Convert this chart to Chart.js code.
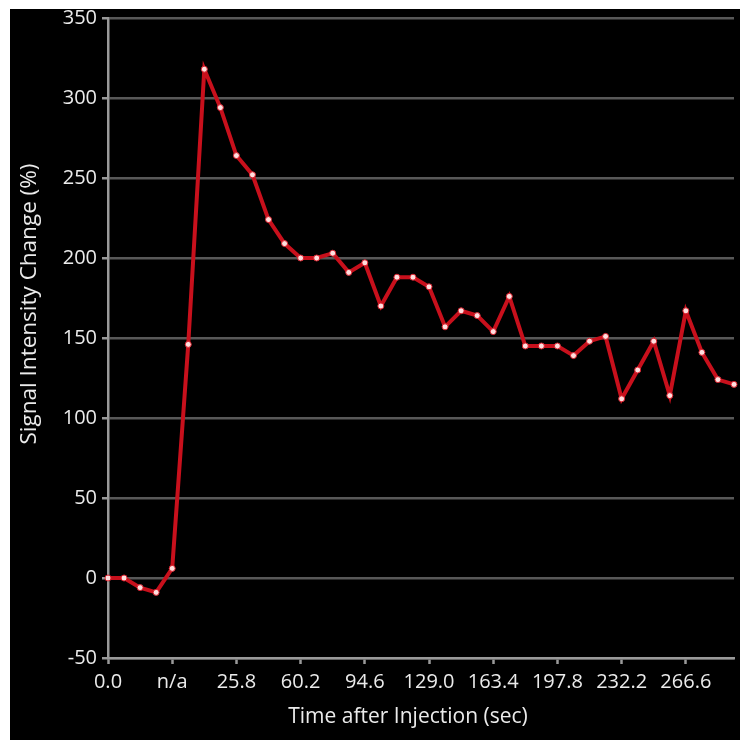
<!DOCTYPE html>
<html>
<head>
<meta charset="utf-8">
<script src="https://cdn.jsdelivr.net/npm/chart.js@4/dist/chart.umd.min.js"></script>
<style>
  html, body { margin: 0; padding: 0; background: #ffffff; }
  #wrap { position: absolute; left: 10px; top: 9px; width: 730px; height: 731px; background: #000000; overflow: hidden; }
  #chart { display: block; position: absolute; left: 0; top: -10px; }
</style>
</head>
<body>
<div id="wrap"><canvas id="chart" width="730" height="741"></canvas></div>
<script>
// Acquisition times (sec after injection); baseline frames carry no time
const timeLabels = [
  "0.0", "n/a", "n/a", "n/a", "n/a", "0.0", "8.6", "17.2", "25.8", "34.4",
  "43.0", "51.6", "60.2", "68.8", "77.4", "86.0", "94.6", "103.2", "111.8", "120.4",
  "129.0", "137.6", "146.2", "154.8", "163.4", "172.0", "180.6", "189.2", "197.8", "206.4",
  "215.0", "223.6", "232.2", "240.8", "249.4", "258.0", "266.6", "275.2", "283.8", "292.4"
];

// Signal intensity change (%) per frame
const signalChange = [
  0, 0, -6, -9, 6, 146, 318, 294, 264, 252,
  224, 209, 200, 200, 203, 191, 197, 170, 188, 188,
  182, 157, 167, 164, 154, 176, 145, 145, 145, 139,
  148, 151, 112, 130, 148, 114, 167, 141, 124, 121
];

const yMin = -50;
const yMax = 350;
const yStep = 50;
const labelEvery = 4;

const xTitle = "Time after Injection (sec)";
const yTitle = "Signal Intensity Change (%)";

const FONT = "'Open Sans', 'DejaVu Sans', sans-serif";
const TEXT = "#ebebeb";
const AXIS = "#9a9a9a";
const GRID = "#585858";

// Axis titles placed by hand
const axisTitles = {
  id: "axisTitles",
  afterDraw(chart) {
    const ctx = chart.ctx;
    ctx.save();
    ctx.fillStyle = TEXT;
    ctx.textAlign = "center";
    ctx.textBaseline = "middle";
    ctx.font = "21px " + FONT;
    ctx.fillText(xTitle, 398, 718);
    ctx.translate(20, 305);
    ctx.rotate(-Math.PI / 2);
    ctx.font = "22.5px " + FONT;
    ctx.fillText(yTitle, 0, 0);
    ctx.restore();
  }
};

new Chart(document.getElementById("chart"), {
  type: "line",
  data: {
    labels: timeLabels,
    datasets: [{
      data: signalChange,
      borderColor: "#c8101c",
      borderWidth: 4,
      tension: 0,
      pointRadius: 3,
      pointBackgroundColor: "#ffdede",
      pointBorderColor: "#d8202c",
      pointBorderWidth: 1
    }]
  },
  options: {
    responsive: false,
    animation: false,
    events: [],
    layout: { padding: { top: 19, right: 1, left: 0, bottom: 0 } },
    plugins: { legend: { display: false }, tooltip: { enabled: false } },
    scales: {
      x: {
        type: "category",
        offset: false,
        afterFit(scale) { scale.height = 82; },
        border: { display: true, color: AXIS, width: 2.5 },
        grid: {
          display: true,
          drawOnChartArea: false,
          drawTicks: true,
          tickLength: 6,
          tickWidth: 2.5,
          tickColor: (c) => (c.index % labelEvery === 0 ? AXIS : "rgba(0,0,0,0)")
        },
        ticks: {
          autoSkip: false,
          maxRotation: 0,
          minRotation: 0,
          padding: 6,
          color: TEXT,
          font: { family: FONT, size: 20 },
          callback: function (value, index) {
            return index % labelEvery === 0 ? this.getLabelForValue(value) : "";
          }
        }
      },
      y: {
        min: yMin,
        max: yMax,
        afterFit(scale) { scale.width = 98; },
        border: { display: true, color: AXIS, width: 2.5 },
        grid: {
          color: GRID,
          lineWidth: 2.5,
          drawTicks: true,
          tickLength: 6,
          tickColor: AXIS,
          tickWidth: 2.5
        },
        ticks: {
          stepSize: yStep,
          padding: 5,
          color: TEXT,
          font: { family: FONT, size: 20 }
        }
      }
    }
  },
  plugins: [axisTitles]
});
</script>
</body>
</html>
